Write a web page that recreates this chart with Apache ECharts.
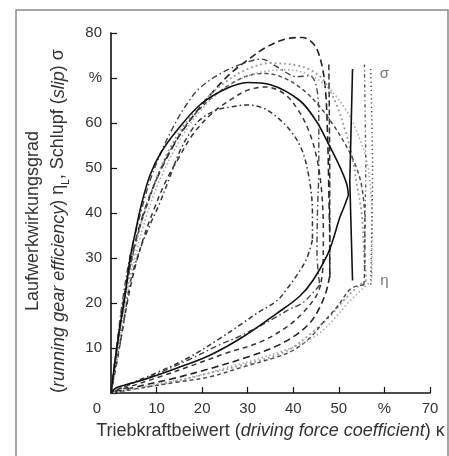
<!DOCTYPE html>
<html>
<head>
<meta charset="utf-8">
<script src="https://cdn.jsdelivr.net/npm/echarts@6/dist/echarts.min.js"></script>
<style>html,body{margin:0;padding:0;background:#fff}#c{width:449px;height:456px}</style>
</head>
<body>
<div id="c"></div>
<script>
// ---- data (x = driving force coefficient κ in %, y = η or σ in %) ----
const xTickLabels = ['0', '10', '20', '30', '40', '50', '%', '70'];
const yTickLabels = ['', '10', '20', '30', '40', '50', '60', '%', '80'];

// solid tyre
const solidEta = [[0,0],[0.5,4],[1.2,9.5],[2,15],[3,21],[4.2,30],[5.3,35.5],[6.7,42],[8.6,48.5],[11,53.5],[14.5,58.4],[19.5,64],[25,67.5],[30,69],[35,68.5],[41.4,65],[45,60.5],[47.4,56],[50.2,50.3],[51.7,46.5],[52.1,44]];
const solidSigma = [[52.1,44],[51.2,41.5],[50.2,39],[48.7,34],[47.3,30.3],[44.3,25],[41.4,21.5],[36.4,17.7],[29,12.5],[21.7,8.4],[14.4,5.5],[7,2.9],[1.3,1.2],[0,0]];
const solidMarker = [[53,72],[52.4,47],[53,25]];

// big dashed tyre
const eta1 = [[0,0],[1,8],[2.5,19],[4.5,30],[7,39.5],[10,47.5],[14,55.5],[18,61.5],[22,66.5],[26,70.8],[30,74],[34,76.8],[38.5,78.7],[42,79],[44.5,77.5],[46,74],[47,68],[47.5,58],[47.8,45],[48,32],[48,26]];
const sigma1 = [[48,26],[47.2,22.5],[45.8,19],[43.6,15.5],[40,12.5],[36,10.3],[30,8],[22,5.5],[14,3.3],[7,1.7],[0,0]];

// dash-dot tyre (upper)
const eta2 = [[0,0],[1.2,10],[2.6,21],[4.3,31],[6.5,40],[8.6,47.3],[11,53.5],[13.6,59],[16.5,64],[19.5,67.8],[24.6,71.3],[29.8,73.5],[33,74.2],[36.4,72.5],[40.8,70.3],[43.6,70.5],[45.2,67.5],[45.6,60],[45.6,50],[45.3,40],[45.2,31],[45.8,24]];
const sigma2 = [[45.8,24],[44.5,22.5],[42,20],[39,18.5],[36.4,17],[32,14.5],[28,12.5],[24,10.8],[17.3,7.5],[10,4.2],[4,1.8],[0,0]];

// inner dash-dot tyre
const eta3 = [[0,0],[1,6],[2.4,13.3],[4.2,24.4],[6.4,32],[8.6,37.5],[10.7,42.2],[12.9,48],[15,53.5],[17.3,57.8],[19.5,60.7],[23.2,62.9],[26,63.5],[29.8,64],[33.4,63.3],[36.4,61.3],[39.3,58.4],[41.9,54],[43.6,47],[44.2,40],[44.2,34]];
const sigma3 = [[44.2,34],[43,30],[41,26.5],[38.5,23],[36.4,20.5],[32,17.7],[29,15.6],[24,12.2],[17.3,8],[10,4.5],[4,2],[0,0]];

// grey dotted tyre
const eta4 = [[0,0],[1.5,10],[3.2,21],[5,31],[7,39],[9.5,46.5],[12.5,53.5],[16,59.5],[20,64.5],[25,69],[30,72],[35,73.3],[40.8,72.8],[44.3,71.5],[47,69],[49.5,64],[51.5,58],[53,52],[54,46],[55,40],[55.5,32],[56,25]];
const sigma4 = [[56,25],[54,23.5],[51,20.5],[48,17],[43.6,13],[40,10.2],[36,8.3],[30,6.5],[22,4.5],[14,2.6],[7,1.2],[0,0]];

// medium dashed tyre
const eta5 = [[0,0],[1.5,8],[3,17],[4.8,26],[7,34],[9.5,41],[12,47],[15,52.5],[18,57.5],[22,62],[26,65],[30,67.3],[34,68],[38,66.5],[41,63],[43.5,58],[45.2,52],[46.2,45],[46.6,36],[46.5,28],[46,24]];
const sigma5 = [[46,24],[45,21.5],[42,17.7],[38.6,14.7],[32.7,11.3],[25.4,8.9],[18,6.2],[10.7,3.6],[5,1.7],[0,0]];

// short dashed tyre
const eta6 = [[0,0],[1,7],[2.2,16],[3.8,26],[5.8,35],[8,42],[11,50],[14.5,56.5],[18,61.5],[22,65.5],[26,68.5],[30,70.5],[34,71],[38,70],[42,67.5],[45.5,64],[48.5,60],[51,56],[53.5,51],[55,46],[55.7,38],[55.7,30],[55.5,24]];
const sigma6 = [[55.5,24],[54,23.8],[52.4,23],[49.5,19],[46.5,15.6],[43.6,12.2],[40,9.5],[36.4,8],[29,5.8],[21.7,3.6],[14.4,2.4],[7,1.2],[0,0]];

// fine dotted tyre
const eta7 = [[0,0],[1.8,11],[3.6,22],[5.5,31],[8,40],[11,48],[15,56],[19,62],[24,67],[29,70],[34,71.5],[39,71.8],[44,70.5],[48,67.5],[51.5,63],[54,58],[56,52],[57,45],[57.3,35],[57.2,25]];
const sigma7 = [[57.2,25],[55,23],[52,20],[49,16.5],[46,13.5],[42,11],[38,9.5],[33,7.8],[26,5.8],[18,3.6],[10,2],[0,0]];

const markerDashed = [[47.8,73],[48,50],[48,25]];
const markerDashed2 = [[55.6,73],[55.9,50],[55.6,28]];
const markerDotted = [[57,72],[57.4,50],[57,24]];

const curveLabels = [{ text: 'σ', at: [60, 71] }, { text: 'η', at: [60, 25] }];

// ---- chart ----
const FONT = '"Liberation Sans", Arial, Helvetica, sans-serif';
const TXT = '#333';

function curve(data, color, type, width, smooth) {
  return {
    type: 'line', data: data, showSymbol: false, symbol: 'none',
    smooth: smooth === undefined ? 0.35 : smooth,
    lineStyle: { color: color, type: type, width: width },
    z: 2, silent: true
  };
}

const series = [
  curve(eta1, '#222', [7, 4], 1.6), curve(sigma1, '#222', [7, 4], 1.6),
  curve(eta2, '#444', [6, 3, 1.5, 3], 1.4), curve(sigma2, '#444', [6, 3, 1.5, 3], 1.4),
  curve(eta3, '#333', [5, 3, 1.5, 3], 1.5), curve(sigma3, '#333', [5, 3, 1.5, 3], 1.5),
  curve(eta4, '#999', [1.8, 3], 1.9), curve(sigma4, '#999', [1.8, 3], 1.9),
  curve(eta5, '#333', [5, 4], 1.5), curve(sigma5, '#333', [5, 4], 1.5),
  curve(eta6, '#444', [4, 3], 1.4), curve(sigma6, '#444', [4, 3], 1.4),
  curve(eta7, '#aaa', [1.5, 2.5], 1.6), curve(sigma7, '#aaa', [1.5, 2.5], 1.6),
  curve(markerDashed, '#333', [6, 3], 1.5, 0.2),
  curve(markerDashed2, '#555', [3, 3, 1, 3], 1.4, 0.2),
  curve(markerDotted, '#444', [1.2, 3], 1.5, 0.2),
  Object.assign(curve(solidEta, '#111', 'solid', 1.6), { z: 5 }),
  Object.assign(curve(solidSigma, '#111', 'solid', 1.6), { z: 5 }),
  Object.assign(curve(solidMarker, '#111', 'solid', 1.6, false), { z: 5 }),
  {
    type: 'scatter', symbolSize: 0, silent: true,
    data: curveLabels.map(l => ({ value: l.at, name: l.text })),
    label: { show: true, position: 'inside', formatter: p => p.name, color: '#555', fontSize: 15, fontFamily: FONT }
  }
];

const chart = echarts.init(document.getElementById('c'), null, { renderer: 'canvas' });
chart.setOption({
  animation: false,
  backgroundColor: '#fff',
  grid: { left: 111, right: 19, top: 33, bottom: 63, containLabel: false },
  xAxis: {
    type: 'value', min: 0, max: 70, interval: 10,
    axisLine: { lineStyle: { color: '#111', width: 1.6 } },
    axisTick: { inside: true, length: 6, lineStyle: { color: '#111', width: 1.2 } },
    splitLine: { show: false },
    axisLabel: {
      margin: 8, color: TXT, fontSize: 15, fontFamily: FONT,
      formatter: v => { const s = xTickLabels[Math.round(v / 10)]; return v === 0 ? '{z|' + s + '}' : s; },
      rich: { z: { padding: [0, 28, 0, 0], fontSize: 15, fontFamily: FONT, color: TXT } }
    },
    name: 'Triebkraftbeiwert ({i|driving force coefficient}) κ',
    nameLocation: 'middle', nameGap: 29,
    nameTextStyle: {
      fontSize: 18, fontFamily: FONT, color: TXT,
      rich: { i: { fontStyle: 'italic', fontSize: 18, fontFamily: FONT, color: TXT } }
    }
  },
  yAxis: {
    type: 'value', min: 0, max: 80, interval: 10,
    axisLine: { show: true, lineStyle: { color: '#111', width: 1.6 } },
    axisTick: { show: true, inside: true, length: 6, lineStyle: { color: '#111', width: 1.2 } },
    splitLine: { show: false },
    axisLabel: {
      margin: 9, color: TXT, fontSize: 15, fontFamily: FONT,
      formatter: v => yTickLabels[Math.round(v / 10)]
    },
    name: 'Laufwerkwirkungsgrad\n({i|running gear efficiency}) η{s|L}, Schlupf ({i|slip}) σ',
    nameLocation: 'middle', nameRotate: 90, nameGap: 40,
    nameTextStyle: {
      fontSize: 18, fontFamily: FONT, color: TXT, lineHeight: 25, padding: [0, 16, 0, 0],
      rich: {
        i: { fontStyle: 'italic', fontSize: 18, fontFamily: FONT, color: TXT, lineHeight: 25 },
        s: { fontSize: 10, fontFamily: FONT, color: TXT, verticalAlign: 'bottom', lineHeight: 25 }
      }
    }
  },
  graphic: [{
    type: 'rect', silent: true, z: -1,
    shape: { x: 16, y: 10, width: 432, height: 452 },
    style: { fill: 'none', stroke: '#888', lineWidth: 1.5 }
  }],
  series: series
});
</script>
</body>
</html>
